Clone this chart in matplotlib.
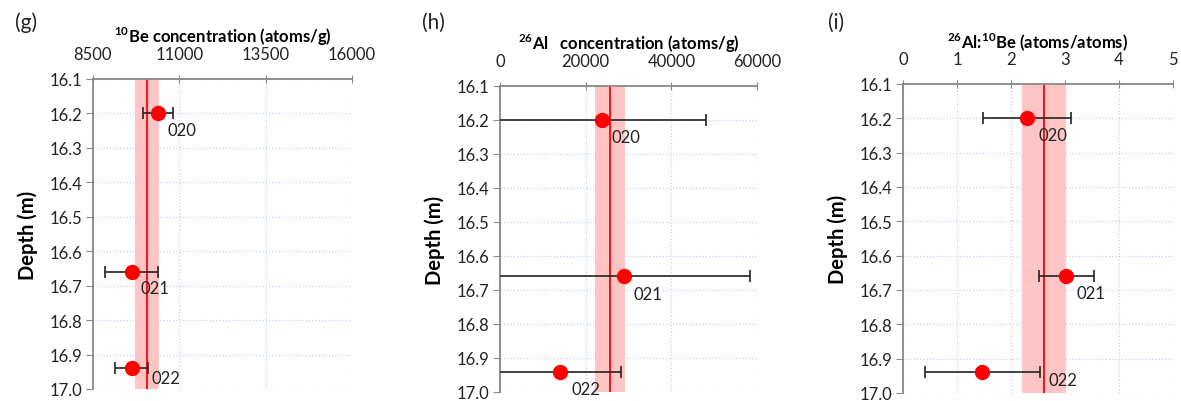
import matplotlib.pyplot as plt
import numpy as np

plt.rcParams['font.family'] = ['Lato', 'DejaVu Sans']
plt.rcParams['mathtext.fontset'] = 'custom'
plt.rcParams['mathtext.rm'] = 'Lato'
plt.rcParams['mathtext.bf'] = 'Lato:bold'

samples = ['020', '021', '022']
depth = [16.20, 16.66, 16.94]

# 10Be concentration (atoms/g)
be10 = [10390, 9620, 9620]
be10_err = [440, 770, 480]
be10_mean, be10_sd = 10070, 350

# 26Al concentration (atoms/g)
al26 = [23900, 29000, 14000]
al26_err = [24200, 29300, 14300]
al26_mean, al26_sd = 25700, 3500

# 26Al/10Be ratio
ratio = [2.30, 3.02, 1.47]
ratio_err = [0.81, 0.51, 1.07]
ratio_mean, ratio_sd = 2.61, 0.40

depth_ticks = np.round(np.arange(16.1, 17.01, 0.1), 1)

panels = [
    dict(letter='(g)', rect=(93, 80, 352, 390), x=be10, err=be10_err,
         mean=be10_mean, sd=be10_sd, xlim=(8500, 16000),
         xticks=[8500, 11000, 13500, 16000],
         title=r'$^{\mathbf{10}}$Be concentration (atoms/g)',
         offs=[(9, 9), (9, 8), (20, 2)]),
    dict(letter='(h)', rect=(500, 87, 757, 393), x=al26, err=al26_err,
         mean=al26_mean, sd=al26_sd, xlim=(0, 60000),
         xticks=[0, 20000, 40000, 60000],
         title=r'$^{\mathbf{26}}$Al   concentration (atoms/g)',
         offs=[(9, 9), (9, 10), (12, 9)]),
    dict(letter='(i)', rect=(903, 85, 1173, 394), x=ratio, err=ratio_err,
         mean=ratio_mean, sd=ratio_sd, xlim=(0, 5),
         xticks=[0, 1, 2, 3, 4, 5],
         title=r'$^{\mathbf{26}}$Al:$^{\mathbf{10}}$Be (atoms/atoms)',
         offs=[(11, 9), (10, 9), (66, 0)]),
]

W, H = 1181, 402
fig = plt.figure(figsize=(W / 100, H / 100), dpi=100)

for p in panels:
    x0, y0, x1, y1 = p['rect']
    ax = fig.add_axes([x0 / W, 1 - y1 / H, (x1 - x0) / W, (y1 - y0) / H])

    ax.axvspan(p['mean'] - p['sd'], p['mean'] + p['sd'], color='#ffc4c4', lw=0, zorder=1)
    ax.axvline(p['mean'], color='#ff0000', lw=1.3, zorder=2)

    ax.errorbar(p['x'], depth, xerr=p['err'], fmt='o', color='#ff0000',
                ms=10, ecolor='#222222', elinewidth=1.2, capsize=4,
                capthick=1.2, zorder=3)
    for s, xv, yv, (dx, dy) in zip(samples, p['x'], depth, p['offs']):
        ax.annotate(s, (xv, yv), xytext=(dx * 0.72, -dy * 0.72),
                    textcoords='offset points', ha='left', va='top',
                    fontsize=12, color='#222222', zorder=4)

    ax.set_xlim(*p['xlim'])
    ax.set_ylim(17.0, 16.1)
    ax.set_xticks(p['xticks'])
    ax.set_yticks(depth_ticks)
    ax.set_yticklabels([f'{v:.1f}' for v in depth_ticks])

    ax.xaxis.tick_top()
    ax.xaxis.set_label_position('top')
    ax.set_xlabel(p['title'], fontsize=12, fontweight='bold', labelpad=3)
    ax.set_ylabel('Depth (m)', fontsize=14.5, fontweight='bold')
    ax.yaxis.set_label_coords(-55 / (x1 - x0), 0.5)

    ax.tick_params(axis='x', direction='inout', length=6, pad=9,
                   color='#888888', labelsize=12, labelcolor='#222222')
    ax.tick_params(axis='y', direction='out', length=5, pad=3,
                   color='#888888', labelsize=12, labelcolor='#222222')

    for side in ['right', 'bottom']:
        ax.spines[side].set_visible(False)
    for side in ['left', 'top']:
        ax.spines[side].set_color('#888888')
        ax.spines[side].set_linewidth(1.3)

    ax.grid(True, color='#c3d3ea', linestyle=':', linewidth=0.9, zorder=0)
    ax.set_axisbelow(True)

    fig.text((x0 - 67) / W, 1 - 23 / H, p['letter'], fontsize=15,
             ha='center', va='center', color='#222222')

fig.savefig('out.png', dpi=100)
